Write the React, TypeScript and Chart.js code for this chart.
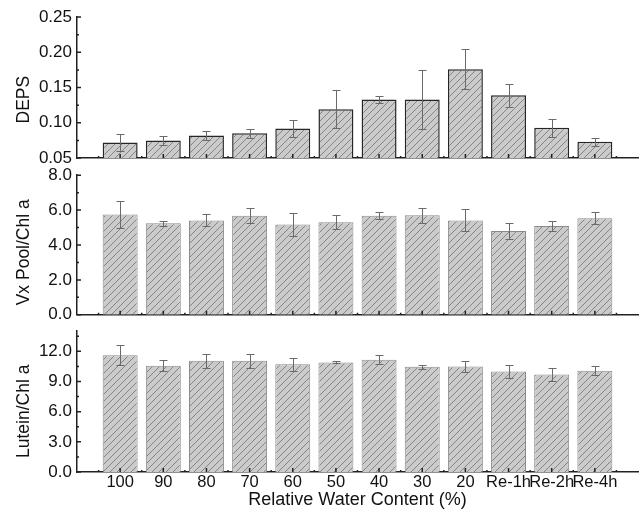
import React, { useEffect, useRef } from "react";
import { Chart, registerables } from "chart.js";

Chart.register(...registerables);

const categories = ["100", "90", "80", "70", "60", "50", "40", "30", "20", "Re-1h", "Re-2h", "Re-4h"];

const depsValues = [0.072, 0.075, 0.082, 0.085, 0.092, 0.119, 0.133, 0.133, 0.176, 0.139, 0.093, 0.073];
const depsErrors = [0.012, 0.006, 0.006, 0.006, 0.012, 0.027, 0.005, 0.042, 0.028, 0.016, 0.013, 0.006];

const vxValues = [5.75, 5.24, 5.41, 5.68, 5.18, 5.30, 5.68, 5.70, 5.41, 4.80, 5.09, 5.54];
const vxErrors = [0.78, 0.15, 0.34, 0.42, 0.65, 0.40, 0.19, 0.43, 0.63, 0.44, 0.26, 0.33];

const luteinValues = [11.61, 10.56, 11.05, 11.05, 10.72, 10.89, 11.15, 10.46, 10.49, 10.0, 9.70, 10.07];
const luteinErrors = [1.02, 0.56, 0.66, 0.66, 0.66, 0.10, 0.46, 0.20, 0.50, 0.66, 0.66, 0.45];

const depsTicks = { min: 0.05, max: 0.25, step: 0.05, digits: 2 };
const vxTicks = { min: 0, max: 8, step: 2, digits: 1 };
const luteinTicks = { min: 0, max: 14, step: 3, digits: 1 };

const FONT = "'Liberation Sans', Arial, sans-serif";
const AXIS_LEFT = 77;
const W = 643;

function makePattern(): CanvasPattern | string {
  const s = 7;
  const c = document.createElement("canvas");
  c.width = s;
  c.height = s;
  const g = c.getContext("2d");
  if (!g) return "#cccccc";
  g.fillStyle = "#cbcbcb";
  g.fillRect(0, 0, s, s);
  g.strokeStyle = "#858585";
  g.lineWidth = 1;
  g.beginPath();
  g.moveTo(-1, s + 1);
  g.lineTo(s + 1, -1);
  g.moveTo(-1, 1);
  g.lineTo(1, -1);
  g.moveTo(s - 1, s + 1);
  g.lineTo(s + 1, s - 1);
  g.stroke();
  const p = g.createPattern(c, "repeat");
  return p || "#cccccc";
}

type PanelProps = {
  top: number;
  height: number;
  padTop: number;
  xHeight: number;
  values: number[];
  errors: number[];
  ticks: { min: number; max: number; step: number; digits: number };
  title: string;
  showX: boolean;
  borderColor: string;
  borderWidth: number;
};

function Panel(props: PanelProps) {
  const ref = useRef<HTMLCanvasElement | null>(null);
  useEffect(() => {
    if (!ref.current) return;
    const labels = ["", ...categories, ""];
    const data = [null, ...props.values, null];
    const errs = props.errors;
    const t = props.ticks;

    const decor = {
      id: "decor",
      afterDatasetsDraw(chart: any) {
        const ctx = chart.ctx;
        const xs = chart.scales.x;
        const ys = chart.scales.y;
        const area = chart.chartArea;
        ctx.save();
        // error bars
        ctx.strokeStyle = "#6a6a6a";
        ctx.lineWidth = 1;
        for (let i = 0; i < props.values.length; i++) {
          const x = Math.round(xs.getPixelForValue(i + 1)) + 0.5;
          const y1 = Math.round(ys.getPixelForValue(props.values[i] + errs[i])) + 0.5;
          const y2 = Math.round(ys.getPixelForValue(props.values[i] - errs[i])) + 0.5;
          ctx.beginPath();
          ctx.moveTo(x, y1);
          ctx.lineTo(x, y2);
          ctx.moveTo(x - 4, y1);
          ctx.lineTo(x + 4, y1);
          ctx.moveTo(x - 4, y2);
          ctx.lineTo(x + 4, y2);
          ctx.stroke();
        }
        // inward ticks
        ctx.strokeStyle = "#222";
        ctx.lineWidth = 1.5;
        ctx.beginPath();
        for (let i = 1; i <= categories.length; i++) {
          const x = xs.getPixelForValue(i);
          ctx.moveTo(x, area.bottom);
          ctx.lineTo(x, area.bottom - 4);
        }
        for (let i = 0; i <= categories.length; i++) {
          const x = xs.getPixelForValue(i + 0.5);
          ctx.moveTo(x, area.bottom);
          ctx.lineTo(x, area.bottom - 2);
        }
        for (let v = t.min; v <= t.max + 1e-9; v += t.step) {
          const y = ys.getPixelForValue(v);
          ctx.moveTo(area.left, y);
          ctx.lineTo(area.left + 4, y);
          const ym = ys.getPixelForValue(v + t.step / 2);
          if (v + t.step / 2 <= t.max + 1e-9) {
            ctx.moveTo(area.left, ym);
            ctx.lineTo(area.left + 2, ym);
          }
        }
        ctx.stroke();
        ctx.restore();
      },
    };

    const chart = new Chart(ref.current, {
      type: "bar",
      data: {
        labels,
        datasets: [
          {
            data: data as any,
            backgroundColor: makePattern() as any,
            borderColor: props.borderColor,
            borderWidth: props.borderWidth,
            barPercentage: 0.81,
            categoryPercentage: 1,
          },
        ],
      },
      options: {
        animation: false,
        responsive: false,
        maintainAspectRatio: false,
        layout: { padding: { top: props.padTop, right: 5, left: 0, bottom: 0 } },
        plugins: { legend: { display: false }, tooltip: { enabled: false } },
        scales: {
          x: {
            type: "category",
            offset: false,
            grid: { display: false, drawTicks: false, offset: false },
            border: { display: true, color: "#222", width: 1.5 },
            ticks: {
              display: props.showX,
              autoSkip: false,
              maxRotation: 0,
              minRotation: 0,
              padding: 1,
              color: "#111",
              font: { family: FONT, size: 16.5 },
            },
            title: {
              display: props.showX,
              text: "Relative Water Content (%)",
              color: "#111",
              font: { family: FONT, size: 18, lineHeight: 1.0 },
              padding: { top: 0, bottom: 2 },
            },
            afterFit: (scale: any) => {
              scale.height = props.xHeight;
            },
          },
          y: {
            min: t.min,
            max: t.max,
            grid: { display: false, drawTicks: false },
            border: { display: true, color: "#222", width: 1.5 },
            ticks: {
              stepSize: t.step,
              padding: 5,
              color: "#111",
              font: { family: FONT, size: 17 },
              callback: (v: any) => {
                const n = Number(v);
                const k = Math.round((n - t.min) / t.step);
                if (Math.abs(t.min + k * t.step - n) > 1e-6) return "";
                return n.toFixed(t.digits);
              },
            },
            title: {
              display: true,
              text: props.title,
              color: "#111",
              font: { family: FONT, size: 17.5 },
              padding: { top: 14, bottom: 0 },
            },
            afterFit: (scale: any) => {
              scale.width = AXIS_LEFT;
            },
          },
        },
      },
      plugins: [decor],
    });
    return () => chart.destroy();
  }, []);
  return (
    <canvas
      ref={ref}
      width={W}
      height={props.height}
      style={{ position: "absolute", left: 0, top: props.top, width: W, height: props.height }}
    />
  );
}

export default function App() {
  return (
    <div style={{ position: "fixed", left: 0, top: 0, width: W, height: 511, background: "#fff" }}>
      <Panel
        top={0}
        height={175}
        padTop={17}
        xHeight={17}
        values={depsValues}
        errors={depsErrors}
        ticks={depsTicks}
        title={"DEPS     "}
        showX={false}
        borderColor="#262626"
        borderWidth={1.5}
      />
      <Panel
        top={160}
        height={170}
        padTop={15}
        xHeight={15}
        values={vxValues}
        errors={vxErrors}
        ticks={vxTicks}
        title={"Vx Pool/Chl a   "}
        showX={false}
        borderColor="#8a8a8a"
        borderWidth={1}
      />
      <Panel
        top={316}
        height={195}
        padTop={15}
        xHeight={39}
        values={luteinValues}
        errors={luteinErrors}
        ticks={luteinTicks}
        title={"Lutein/Chl a    "}
        showX={true}
        borderColor="#8a8a8a"
        borderWidth={1}
      />
    </div>
  );
}
